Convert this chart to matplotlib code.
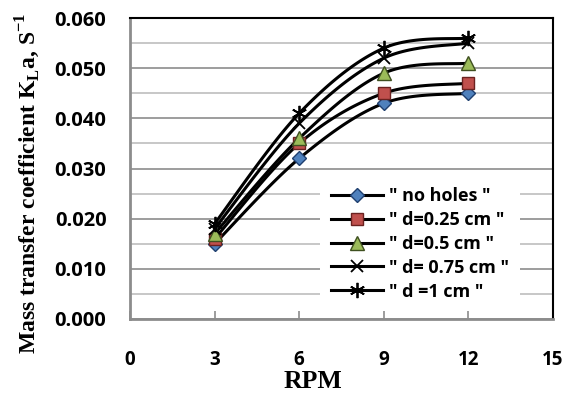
import numpy as np
import matplotlib.pyplot as plt
from matplotlib.lines import Line2D

rpm = [3, 6, 9, 12]
no_holes = [0.015, 0.032, 0.043, 0.045]
d_025 = [0.016, 0.035, 0.045, 0.047]
d_05 = [0.017, 0.036, 0.049, 0.051]
d_075 = [0.018, 0.039, 0.052, 0.055]
d_1 = [0.019, 0.041, 0.054, 0.056]
labels = ['" no holes "', '" d=0.25 cm "', '" d=0.5 cm "', '" d= 0.75 cm "', '" d =1 cm "']


def smooth(x, y, n=30):
    # excel-like smoothing: catmull-rom segments drawn as cubic bezier
    x = np.asarray(x, float)
    y = np.asarray(y, float)
    px = np.concatenate([[x[0]], x, [x[-1]]])
    py = np.concatenate([[y[0]], y, [y[-1]]])
    t = np.linspace(0, 1, n)
    xs, ys = [], []
    for i in range(len(x) - 1):
        p0 = np.array([px[i], py[i]])
        p1 = np.array([px[i + 1], py[i + 1]])
        p2 = np.array([px[i + 2], py[i + 2]])
        p3 = np.array([px[i + 3], py[i + 3]])
        c1 = p1 + (p2 - p0) / 6
        c2 = p2 - (p3 - p1) / 6
        b = ((1 - t) ** 3)[:, None] * p1 + (3 * (1 - t) ** 2 * t)[:, None] * c1 \
            + (3 * (1 - t) * t ** 2)[:, None] * c2 + (t ** 3)[:, None] * p2
        xs.append(b[:, 0])
        ys.append(b[:, 1])
    return np.concatenate(xs), np.concatenate(ys)


W, H = 572, 394
fig = plt.figure(figsize=(W / 100, H / 100), dpi=100)
ax = fig.add_axes([130 / W, 1 - 319 / H, 423 / W, 301 / H])

series = [no_holes, d_025, d_05, d_075, d_1]
styles = [
    dict(marker='D', markersize=7, markerfacecolor='#4F81BD', markeredgecolor='#1F3F6F'),
    dict(marker='s', markersize=9, markerfacecolor='#C0504D', markeredgecolor='#6B2220'),
    dict(marker='^', markersize=10, markerfacecolor='#9BBB59', markeredgecolor='#3F5020'),
    dict(marker='x', markersize=9, markeredgecolor='black', markeredgewidth=1.3),
    dict(marker=(6, 2, 0), markersize=11, markeredgecolor='black', markeredgewidth=1.3),
]
handles = []
for vals, st, lab in zip(series, styles, labels):
    sx, sy = smooth(rpm, vals)
    ax.plot(sx, sy, color='black', lw=2.2, zorder=3)
    ax.plot(rpm, vals, linestyle='none', zorder=4, **st)
    handles.append(Line2D([0], [0], color='black', lw=2.2, label=lab, **st))

ax.set_xlim(0, 15)
ax.set_ylim(0, 0.060)
ax.set_xticks([0, 3, 6, 9, 12, 15])
ax.set_yticks(np.arange(0, 0.0601, 0.01))
ax.set_yticks(np.arange(0.005, 0.06, 0.01), minor=True)
ax.yaxis.set_major_formatter(plt.FuncFormatter(lambda v, p: '%.3f' % v))
ax.grid(axis='y', which='major', color='#8c8c8c', lw=1.2, zorder=0)
ax.grid(axis='y', which='minor', color='#bdbdbd', lw=1.2, zorder=0)
ax.set_axisbelow(True)

for lab in ax.get_yticklabels():
    lab.set_fontfamily('Open Sans')
    lab.set_fontweight('bold')
    lab.set_fontsize(14.5)
for lab in ax.get_xticklabels():
    lab.set_fontfamily('Open Sans')
    lab.set_fontweight('bold')
    lab.set_fontsize(13.5)
ax.tick_params(axis='x', direction='in', length=6, color='#8c8c8c', width=1.2, pad=22)
ax.tick_params(axis='y', which='both', length=0, pad=17)

for s in ['left', 'bottom']:
    ax.spines[s].set_color('#8c8c8c')
    ax.spines[s].set_linewidth(2)
for s in ['top', 'right']:
    ax.spines[s].set_color('black')
    ax.spines[s].set_linewidth(1.5)

ax.set_xlabel('RPM', family='Liberation Serif', weight='bold', size=18.5)
ax.xaxis.set_label_coords((313 - 130) / 423, -(381 - 319) / 301, transform=ax.transAxes)
ax.xaxis.label.set_va('center')
ax.set_ylabel('Mass transfer coefficient K$_\\mathregular{L}$a, S$^\\mathregular{-1}$',
              family='Liberation Serif', weight='bold', size=17)
ax.yaxis.set_label_coords(-(130 - 28) / 423, (319 - 183) / 301, transform=ax.transAxes)
ax.yaxis.label.set_va('center')

leg = ax.legend(handles=handles, loc='center',
                bbox_to_anchor=(420 / W, 1 - 244 / H), bbox_transform=fig.transFigure,
                frameon=True, framealpha=1, edgecolor='none', fancybox=False,
                prop=dict(family='Open Sans', weight='bold', size=13),
                handlelength=2.9, handletextpad=0.3, labelspacing=0.32,
                borderpad=0.6, borderaxespad=0, numpoints=1)
leg.get_frame().set_facecolor('white')

fig.savefig('out.png', dpi=100)
